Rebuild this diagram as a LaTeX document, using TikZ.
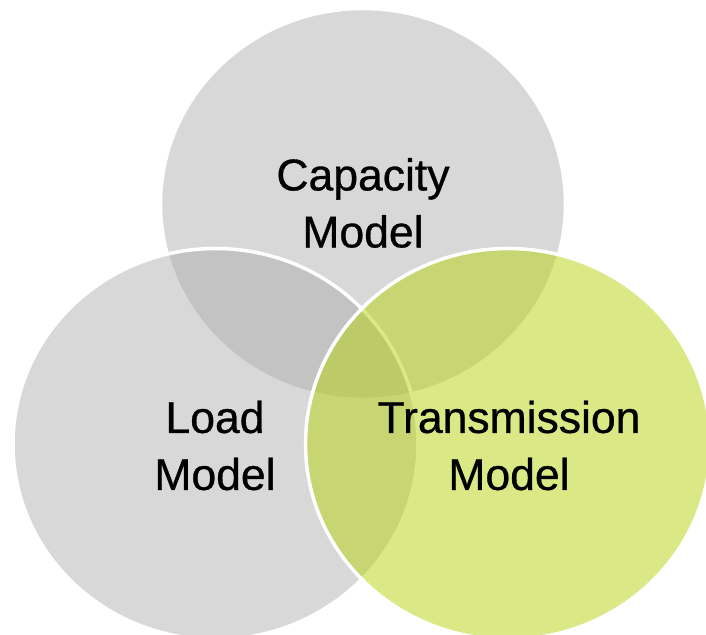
\documentclass[tikz,border=0pt]{standalone}
\usepackage{fontspec}
\setmainfont{Liberation Sans}
\newfontfamily\lblfont{Liberation Sans}[FakeBold=0.7]
\usetikzlibrary{shapes.geometric}
\definecolor{vgray}{RGB}{170,170,170}
\definecolor{vgreen}{RGB}{183,211,13}
\tikzset{
  venn/.style={ellipse, draw=white, line width=3.5pt, draw opacity=1,
    minimum width=405pt, minimum height=391pt, inner sep=0pt},
  graycirc/.style={venn, fill=vgray, fill opacity=0.45},
  greencirc/.style={venn, fill=vgreen, fill opacity=0.5},
  lbl/.style={align=center, font=\lblfont\fontsize{44.5}{57}\selectfont, text=black, inner sep=0pt}
}
\begin{document}
\begin{tikzpicture}[x=1pt,y=1pt]
\useasboundingbox (0,0) rectangle (706,634);
\clip (0,0) rectangle (706,634);
\fill[white] (0,0) rectangle (706,634);
\node[graycirc] (cap) at (363,430) {};
\node[graycirc] (load) at (215.5,190) {};
\node[greencirc] (trans) at (508,190) {};
\node[lbl] (captxt) at (363,431) {Capacity\\Model};
\node[lbl] (loadtxt) at (215,188.5) {Load\\Model};
\node[lbl] (transtxt) at (509,188.5) {Transmission\\Model};
\end{tikzpicture}
\end{document}
